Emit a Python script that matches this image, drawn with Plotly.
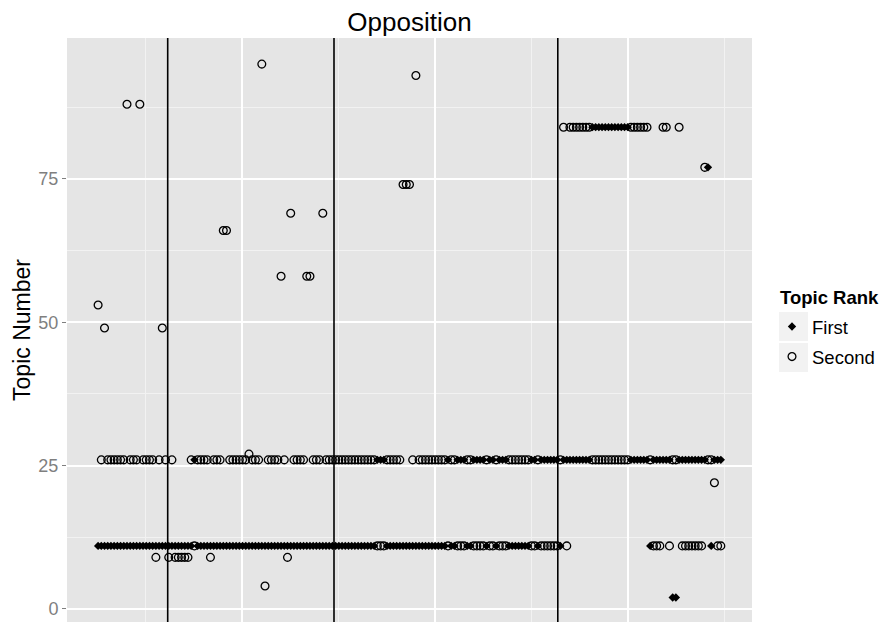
import plotly.graph_objects as go

# ---- data: one observation per position, its first- and second-ranked topic ----
first_topic = [
    11, 11, 11, 11, 11, 11, 11, 11, 11, 11,
    11, 11, 11, 11, 11, 11, 11, 11, 11, 11,
    11, 11, 11, 11, 11, 11, 11, 11, 11, 11,
    26, 11, 11, 11, 11, 11, 11, 11, 11, 11,
    11, 11, 11, 11, 11, 11, 11, 11, 11, 11,
    11, 11, 11, 11, 11, 11, 11, 11, 11, 11,
    11, 11, 11, 11, 11, 11, 11, 11, 11, 11,
    11, 11, 11, 11, 11, 11, 11, 11, 11, 11,
    11, 11, 11, 11, 11, 11, 11, 26, 26, 26,
    11, 11, 11, 11, 11, 11, 11, 11, 11, 11,
    11, 11, 11, 11, 11, 11, 11, 11, 11, 26,
    11, 11, 26, 26, 26, 11, 11, 26, 26, 26,
    26, 11, 26, 26, 11, 26, 26, 26, 11, 11,
    11, 11, 11, 11, 11, 26, 26, 11, 26, 26,
    26, 26, 26, 26, 11, 26, 26, 26, 26, 26,
    26, 26, 26, 26, 84, 84, 84, 84, 84, 84,
    84, 84, 84, 84, 84, 84, 26, 26, 26, 26,
    26, 26, 11, 26, 26, 26, 26, 26, 26, 2,
    2, 26, 26, 26, 26, 26, 26, 26, 26, 26,
    77, 11, 26, 26, 26,
]

second_topic = [
    53, 26, 49, 26, 26, 26, 26, 26, 26, 88,
    26, 26, 26, 88, 26, 26, 26, 26, 9, 26,
    49, 26, 9, 26, 9, 9, 9, 9, 9, 26,
    11, 26, 26, 26, 26, 9, 26, 26, 26, 66,
    66, 26, 26, 26, 26, 26, 26, 27, 26, 26,
    26, 95, 4, 26, 26, 26, 26, 58, 26, 9,
    69, 26, 26, 26, 26, 58, 58, 26, 26, 26,
    69, 26, 26, 26, 26, 26, 26, 26, 26, 26,
    26, 26, 26, 26, 26, 26, 26, 11, 11, 11,
    26, 26, 26, 26, 26, 74, 74, 74, 26, 93,
    26, 26, 26, 26, 26, 26, 26, 26, 26, 11,
    26, 26, 11, 11, 11, 26, 26, 11, 11, 11,
    11, 26, 11, 11, 26, 11, 11, 11, 26, 26,
    26, 26, 26, 26, 26, 11, 11, 26, 11, 11,
    11, 11, 11, 11, 26, 84, 11, 84, 84, 84,
    84, 84, 84, 84, 26, 26, 26, 26, 26, 26,
    26, 26, 26, 26, 26, 26, 84, 84, 84, 84,
    84, 84, 26, 11, 11, 11, 84, 84, 11, 26,
    26, 84, 11, 11, 11, 11, 11, 11, 11, 77,
    26, 26, 22, 11, 11,
]

period_breaks = [22.68, 74.49, 144.21]          # vertical reference lines (observation scale)
x_major_breaks = [45.74, 105.95, 166.08]
x_minor_breaks = [15.61, 75.84, 136.0, 196.1]
y_ticks = [0, 25, 50, 75]
y_tick_labels = ["0", "25", "50", "75"]
y_minor = [12.5, 37.5, 62.5, 87.5]
rank_names = ["First", "Second"]

obs = list(range(1, len(first_topic) + 1))

# ---- layout geometry ----
W, H = 879, 622
ML, MR, MT, MB = 67, 127, 38, 0
PW, PH = W - ML - MR, H - MT - MB
FONT = "Liberation Sans, Arial, Helvetica, sans-serif"

fig = go.Figure()
fig.add_trace(go.Scatter(
    x=obs, y=first_topic, mode="markers", name=rank_names[0], legendgroup="g1",
    marker=dict(symbol="diamond", size=6.4, color="black", line=dict(width=0)),
))
fig.add_trace(go.Scatter(
    x=obs, y=second_topic, mode="markers", name=rank_names[1], legendgroup="g2",
    marker=dict(symbol="circle-open", size=7.8, color="black", line=dict(width=1.3)),
))
for b in period_breaks:
    fig.add_vline(x=b, line=dict(color="black", width=1.6))


def px_to_paper_x(px):
    return (px - ML) / PW


def py_to_paper_y(py):
    return (H - MB - py) / PH


# legend key backgrounds
for top in (312, 343):
    fig.add_shape(type="rect", xref="paper", yref="paper",
                  x0=px_to_paper_x(779), x1=px_to_paper_x(808),
                  y0=py_to_paper_y(top + 29), y1=py_to_paper_y(top),
                  fillcolor="#F2F2F2", line=dict(width=0), layer="below")

fig.add_annotation(text="<b>Topic Rank</b>", xref="paper", yref="paper",
                   x=px_to_paper_x(778), y=py_to_paper_y(297),
                   xanchor="left", yanchor="middle", showarrow=False,
                   font=dict(size=18.5, color="black"))

fig.update_layout(
    width=W, height=H,
    margin=dict(l=ML, r=MR, t=MT, b=MB, autoexpand=False),
    paper_bgcolor="white",
    plot_bgcolor="#E5E5E5",
    font=dict(family=FONT, color="black"),
    title=dict(text="Opposition", x=0.5, xref="paper", xanchor="center",
               y=1 - 22 / H, yref="container", yanchor="middle",
               font=dict(size=26, color="black")),
    showlegend=True,
    legend=dict(
        font=dict(size=18.5, color="black"),
        x=px_to_paper_x(772), xanchor="left",
        y=py_to_paper_y(308), yanchor="top",
        bgcolor="rgba(0,0,0,0)", borderwidth=0,
        tracegroupgap=3, itemsizing="trace",
    ),
    xaxis=dict(
        range=[-8.69, 204.71], showticklabels=False, ticks="",
        tickmode="array", tickvals=x_major_breaks,
        showgrid=True, gridcolor="white", gridwidth=2,
        zeroline=False, showline=False,
        minor=dict(tickmode="array", tickvals=x_minor_breaks, showgrid=True,
                   gridcolor="#F2F2F2", gridwidth=1, ticks=""),
    ),
    yaxis=dict(
        range=[-2.27, 99.55], tickmode="array", tickvals=y_ticks, ticktext=y_tick_labels,
        ticks="outside", ticklen=4, tickcolor="#7F7F7F", tickwidth=1,
        tickfont=dict(size=18, color="#7F7F7F"),
        showgrid=True, gridcolor="white", gridwidth=2,
        zeroline=False, showline=False,
        minor=dict(tickmode="array", tickvals=y_minor, showgrid=True,
                   gridcolor="#F2F2F2", gridwidth=1, ticks=""),
        title=dict(text="Topic Number", font=dict(size=23, color="black"), standoff=1),
        automargin=False,
    ),
)

fig.write_html("out.html", config={"displayModeBar": False},
               post_script="document.body.style.margin='0';")
